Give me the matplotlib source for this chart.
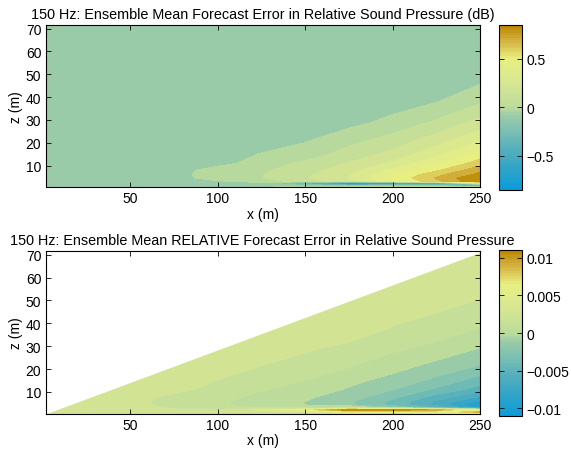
import numpy as np
import matplotlib
matplotlib.use("Agg")
import matplotlib.pyplot as plt
from matplotlib.colors import LinearSegmentedColormap, Normalize
from matplotlib.cm import ScalarMappable

plt.rcParams['font.family'] = ['Liberation Sans', 'DejaVu Sans']
plt.rcParams['font.size'] = 10

# range (m) and depth (m) of the sampled field
x_m = np.array([0, 25, 50, 75, 100, 125, 150, 175, 200, 225, 250])
z_m = np.array([72, 50, 38, 29, 21, 15, 11, 8, 6, 4.5, 3.2, 2.2, 1.2, 0.5])

# ensemble mean forecast error (dB), rows follow z_m, columns follow x_m
err_db = np.array([
    [-0.1, -0.1, -0.1, -0.1, -0.1, -0.1, -0.1, -0.1, -0.1, -0.1, -0.1],
    [-0.1, -0.1, -0.1, -0.1, -0.1, -0.1, -0.1, -0.1, -0.1, -0.1, -0.1],
    [-0.1, -0.1, -0.1, -0.1, -0.1, -0.1, -0.1, -0.1, -0.1, -0.055, 0.035],
    [-0.1, -0.1, -0.1, -0.1, -0.1, -0.1, -0.1, -0.085, -0.02, 0.065, 0.18],
    [-0.1, -0.1, -0.1, -0.1, -0.1, -0.1, -0.06, 0.02, 0.09, 0.2, 0.34],
    [-0.1, -0.1, -0.1, -0.1, -0.1, -0.045, 0.0, 0.09, 0.18, 0.32, 0.49],
    [-0.1, -0.1, -0.1, -0.1, -0.09, 0.0, 0.07, 0.155, 0.27, 0.43, 0.6],
    [-0.1, -0.1, -0.1, -0.1, 0.0, 0.03, 0.11, 0.2, 0.37, 0.53, 0.72],
    [-0.1, -0.1, -0.1, -0.1, 0.02, 0.045, 0.13, 0.24, 0.44, 0.62, 0.78],
    [-0.1, -0.1, -0.1, -0.1, 0.0, 0.045, 0.14, 0.25, 0.46, 0.66, 0.85],
    [-0.1, -0.1, -0.1, -0.1, -0.06, 0.0, 0.1, 0.22, 0.42, 0.62, 0.85],
    [-0.1, -0.1, -0.1, -0.1, -0.1, -0.08, -0.4, -0.85, -0.75, -0.6, 0.2],
    [-0.1, -0.1, -0.1, -0.1, -0.1, -0.1, -0.15, -0.2, -0.15, -0.15, -0.55],
    [-0.1, -0.1, -0.1, -0.1, -0.1, -0.05, 0.05, 0.1, 0.1, 0.1, 0.05],
])

# relative forecast error, in units of 1e-3
rel_err_milli = np.array([
    [2.5, 2.5, 2.5, 2.5, 2.5, 2.5, 2.5, 2.5, 2.5, 2.5, 2.5],
    [2.5, 2.5, 2.5, 2.5, 2.5, 2.5, 2.5, 2.5, 2.5, 2.3, 1.9],
    [2.5, 2.5, 2.5, 2.5, 2.5, 2.5, 2.5, 2.5, 1.9, 1.5, 0.6],
    [2.5, 2.5, 2.5, 2.5, 2.5, 2.5, 2.05, 1.7, 0.9, 0.2, -0.7],
    [2.5, 2.5, 2.5, 2.5, 2.5, 1.9, 1.6, 0.7, -0.2, -1.1, -2.1],
    [2.5, 2.5, 2.5, 2.5, 1.9, 1.3, 0.6, -0.3, -1.1, -2.3, -3.9],
    [2.5, 2.5, 2.5, 2.3, 1.5, 0.75, 0.1, -0.8, -1.9, -3.5, -5.2],
    [2.5, 2.5, 2.5, 1.6, 1.1, 0.3, -0.4, -1.3, -2.8, -5.0, -7.1],
    [2.5, 2.5, 2.5, 1.3, 0.9, 0.0, -0.65, -1.7, -3.5, -6.0, -8.6],
    [2.5, 2.5, 2.5, 1.4, 0.9, 0.0, -0.7, -1.8, -3.7, -6.3, -9.8],
    [2.5, 2.5, 2.5, 1.7, 1.2, 0.4, -0.3, 1.0, -2.0, -5.0, -9.0],
    [2.5, 2.5, 2.5, 2.1, 1.9, 3.5, 6.0, 11.0, 10.5, 9.5, 3.5],
    [2.5, 2.5, 2.5, 2.4, 2.3, 2.4, 3.0, 5.0, 5.0, 5.0, 9.0],
    [2.5, 2.5, 2.5, 2.5, 2.5, 2.5, 2.5, 2.8, 2.8, 2.8, 4.5],
])
rel_err = rel_err_milli * 1e-3

# edge of the region covered by the relative error (outside is blank)
wedge_x = [0, 250]
wedge_z = [0, 71]

err_ticks = [-0.5, 0, 0.5]
err_labels = ['\u22120.5', '0', '0.5']
rel_ticks = [-0.01, -0.005, 0, 0.005, 0.01]
rel_labels = ['\u22120.01', '\u22120.005', '0', '0.005', '0.01']

cmap = LinearSegmentedColormap.from_list('errmap', [
    (0.00, '#0b9dd9'),
    (0.12, '#30a4c8'),
    (0.25, '#58b0bc'),
    (0.37, '#80c2b0'),
    (0.45, '#9ccca8'),
    (0.50, '#bcdb9c'),
    (0.62, '#d2e494'),
    (0.75, '#e2ec88'),
    (0.80, '#e8f080'),
    (0.86, '#dccc5c'),
    (0.93, '#cfa835'),
    (1.00, '#bb8800'),
], N=64)

fig = plt.figure(figsize=(5.71, 4.56), dpi=100)


def panel(ax_rect, cb_rect, field, vlim, ticks, labels, title, mask=False):
    ax = fig.add_axes(ax_rect)
    norm = Normalize(-vlim, vlim)
    levels = np.linspace(-vlim, vlim, 18)
    ax.contourf(x_m, z_m, field, levels=levels, cmap=cmap, norm=norm, extend='both')
    if mask:
        ax.fill_between(wedge_x, wedge_z, 80, color='white', lw=0)
    ax.set_xlim(1.5, 250)
    ax.set_ylim(0.6, 71.6)
    ax.set_xticks([50, 100, 150, 200, 250])
    ax.set_yticks([10, 20, 30, 40, 50, 60, 70])
    ax.tick_params(direction='in', top=True, right=True, length=3.5, width=0.6, labelsize=10, pad=3)
    for s in ax.spines.values():
        s.set_linewidth(0.8)
    ax.set_xlabel('x (m)', labelpad=1)
    ax.set_ylabel('z (m)', labelpad=2)
    ax.set_title(title, fontsize=10.4, pad=5)

    cax = fig.add_axes(cb_rect)
    cb = fig.colorbar(ScalarMappable(norm=norm, cmap=cmap), cax=cax)
    cb.set_ticks(ticks)
    cb.set_ticklabels(labels)
    cb.outline.set_linewidth(0.8)
    cax.tick_params(direction='in', left=True, right=True, length=3.5, width=0.6, labelsize=10, pad=3)
    return ax


panel([0.0797, 0.5877, 0.7609, 0.3553], [0.874, 0.5822, 0.0403, 0.3607],
      err_db, 0.85, err_ticks, err_labels,
      '150 Hz: Ensemble Mean Forecast Error in Relative Sound Pressure (dB)')
panel([0.0797, 0.0910, 0.7609, 0.3564], [0.874, 0.0855, 0.0403, 0.3640],
      rel_err, 0.011, rel_ticks, rel_labels,
      '150 Hz: Ensemble Mean RELATIVE Forecast Error in Relative Sound Pressure', mask=True)

fig.savefig('out.png', dpi=100)
